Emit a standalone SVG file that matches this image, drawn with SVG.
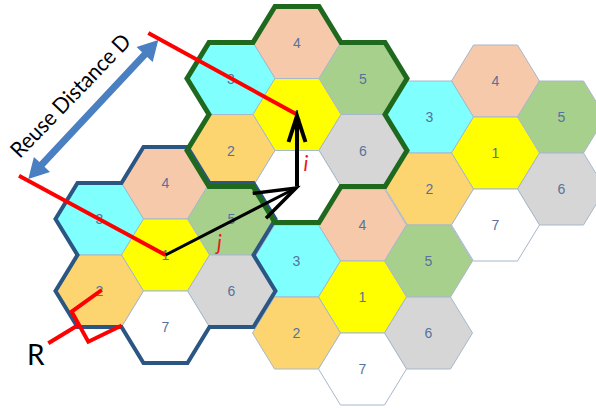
<svg xmlns="http://www.w3.org/2000/svg" xmlns:xlink="http://www.w3.org/1999/xlink" width="596" height="408" viewBox="0 0 596 408">
<defs>
<polygon id="hx" points="-44,0 -22,-36 22,-36 44,0 22,36 -22,36"/>
<path id="outline" d="M-22,-108 L22,-108 L44,-72 L88,-72 L110,-36 L88,0 L110,36 L88,72 L44,72 L22,108 L-22,108 L-44,72 L-88,72 L-110,36 L-88,0 L-110,-36 L-88,-72 L-44,-72 Z"/>
<style>
.cell use{stroke:#a7b8cb;stroke-width:1}
.n1{fill:#ffff00}.n2{fill:#fdd570}.n3{fill:#80ffff}.n4{fill:#f7c9ab}.n5{fill:#a8d08d}.n6{fill:#d6d6d6}.n7{fill:#ffffff}
.num{font-family:"Liberation Sans",Arial,sans-serif;font-size:14px;fill:#56729c;text-anchor:middle}
.og{fill:none;stroke:#1f691f;stroke-width:5;stroke-linejoin:miter}
.ob{fill:none;stroke:#2b5683;stroke-width:4;stroke-linejoin:miter}
.red{fill:none;stroke:#ff0000;stroke-width:4}
.blk{fill:none;stroke:#000;stroke-linejoin:miter}
.lbl{font-family:Lato,"Liberation Sans",sans-serif;fill:#000}
.ij{font-family:Lato,"Liberation Sans",sans-serif;font-style:italic;font-size:21px;fill:#e8191e}
</style>
</defs>

<!-- Cluster D -->
<g id="D4" class="cell"><use xlink:href="#hx" x="495.5" y="81" class="n4"/><text class="num" x="495.5" y="86">4</text></g>
<g id="D3" class="cell"><use xlink:href="#hx" x="429.5" y="117" class="n3"/><text class="num" x="429.5" y="122">3</text></g>
<g id="D5" class="cell"><use xlink:href="#hx" x="561.5" y="117" class="n5"/><text class="num" x="561.5" y="122">5</text></g>
<g id="D1" class="cell"><use xlink:href="#hx" x="495.5" y="153" class="n1"/><text class="num" x="495.5" y="158">1</text></g>
<g id="D2" class="cell"><use xlink:href="#hx" x="429.5" y="189" class="n2"/><text class="num" x="429.5" y="194">2</text></g>
<g id="D6" class="cell"><use xlink:href="#hx" x="561.5" y="189" class="n6"/><text class="num" x="561.5" y="194">6</text></g>
<g id="D7" class="cell"><use xlink:href="#hx" x="495.5" y="225" class="n7"/><text class="num" x="495.5" y="230">7</text></g>

<!-- Cluster C -->
<g id="C4" class="cell"><use xlink:href="#hx" x="362.5" y="225" class="n4"/><text class="num" x="362.5" y="230">4</text></g>
<g id="C3" class="cell"><use xlink:href="#hx" x="296.5" y="261" class="n3"/><text class="num" x="296.5" y="266">3</text></g>
<g id="C5" class="cell"><use xlink:href="#hx" x="428.5" y="261" class="n5"/><text class="num" x="428.5" y="266">5</text></g>
<g id="C1" class="cell"><use xlink:href="#hx" x="362.5" y="297" class="n1"/><text class="num" x="362.5" y="302">1</text></g>
<g id="C2" class="cell"><use xlink:href="#hx" x="296.5" y="333" class="n2"/><text class="num" x="296.5" y="338">2</text></g>
<g id="C6" class="cell"><use xlink:href="#hx" x="428.5" y="333" class="n6"/><text class="num" x="428.5" y="338">6</text></g>
<g id="C7" class="cell"><use xlink:href="#hx" x="362.5" y="369" class="n7"/><text class="num" x="362.5" y="374">7</text></g>

<!-- Cluster B -->
<g id="B4" class="cell"><use xlink:href="#hx" x="165.5" y="183" class="n4"/><text class="num" x="165.5" y="188">4</text></g>
<g id="B3" class="cell"><use xlink:href="#hx" x="99.5" y="219" class="n3"/><text class="num" x="99.5" y="224">3</text></g>
<g id="B5" class="cell"><use xlink:href="#hx" x="231.5" y="219" class="n5"/><text class="num" x="231.5" y="224">5</text></g>
<g id="B1" class="cell"><use xlink:href="#hx" x="165.5" y="255" class="n1"/><text class="num" x="165.5" y="260">1</text></g>
<g id="B2" class="cell"><use xlink:href="#hx" x="99.5" y="291" class="n2"/><text class="num" x="99.5" y="296">2</text></g>
<g id="B6" class="cell"><use xlink:href="#hx" x="231.5" y="291" class="n6"/><text class="num" x="231.5" y="296">6</text></g>
<g id="B7" class="cell"><use xlink:href="#hx" x="165.5" y="327" class="n7"/><text class="num" x="165.5" y="332">7</text></g>

<!-- Cluster A -->
<g id="A4" class="cell"><use xlink:href="#hx" x="297" y="42.5" class="n4"/><text class="num" x="297" y="47.5">4</text></g>
<g id="A3" class="cell"><use xlink:href="#hx" x="231" y="78.5" class="n3"/><text class="num" x="231" y="83.5">3</text></g>
<g id="A5" class="cell"><use xlink:href="#hx" x="363" y="78.5" class="n5"/><text class="num" x="363" y="83.5">5</text></g>
<g id="A1" class="cell"><use xlink:href="#hx" x="297" y="114.5" class="n1"/><text class="num" x="297" y="119.5">1</text></g>
<g id="A2" class="cell"><use xlink:href="#hx" x="231" y="150.5" class="n2"/><text class="num" x="231" y="155.5">2</text></g>
<g id="A6" class="cell"><use xlink:href="#hx" x="363" y="150.5" class="n6"/><text class="num" x="363" y="155.5">6</text></g>
<g id="A7" class="cell"><use xlink:href="#hx" x="297" y="186.5" class="n7"/></g>

<!-- cluster outlines -->
<g id="outlines">
<use xlink:href="#outline" x="165.5" y="255" class="ob"/>
<use xlink:href="#outline" x="297" y="114.5" class="og"/>
</g>

<!-- connectors / annotations -->
<g id="connectors">
<line class="red" x1="148.3" y1="33" x2="297" y2="114.5"/>
<line class="red" x1="19" y1="175.7" x2="165.5" y2="255"/>
<polygon fill="#4a7fc1" points="158.3,40 152.7,62.1 147.2,57 44.52,166.78 50,171.9 28.3,179 33.9,156.9 39.4,162 142.08,52.22 136.6,47.1"/>
<polyline class="red" stroke-width="3.5" points="101.7,290 71.7,311.7 88.3,341.7 121.7,325.5"/>
<line class="red" stroke-width="3.5" x1="48.3" y1="343.3" x2="78.3" y2="325"/>
<line class="blk" stroke-width="4" x1="297" y1="186.5" x2="297" y2="118"/>
<polyline class="blk" stroke-width="4" points="288.5,142 297,116 305.5,142"/>
<line class="blk" stroke-width="3" x1="165.5" y1="255" x2="294" y2="189"/>
<polyline class="blk" stroke-width="3.5" points="252.7,193.3 296,188 266,218.3"/>
</g>

<g id="labels">
<text class="lbl" font-size="22" text-anchor="middle" textLength="162" lengthAdjust="spacingAndGlyphs" transform="translate(76,101) rotate(-46)">Reuse Distance D</text>
<text class="lbl" font-size="28" x="27" y="365">R</text>
<text class="ij" x="303.5" y="170.5">i</text>
<text class="ij" x="217" y="249.5">j</text>
</g>
</svg>
